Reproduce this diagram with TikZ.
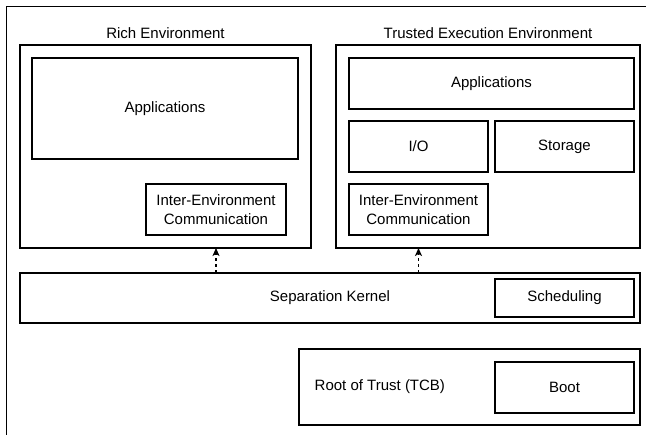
\documentclass[tikz,border=0pt]{standalone}
\usepackage{fontspec}
\setmainfont{Liberation Sans}
\usetikzlibrary{arrows.meta}
\begin{document}
\begin{tikzpicture}[x=1pt, y=-1pt,
  box/.style={draw, rectangle, line width=1.2pt, inner sep=0pt, outer sep=0pt, align=center},
  lbl/.style={inner sep=0pt},
  link/.style={-{Stealth[length=8pt, width=7pt, inset=2pt]}, dash pattern=on 3pt off 3pt, line width=1.2pt},
  every node/.style={font=\fontsize{15}{19}\selectfont}]
\useasboundingbox (0,0) rectangle (646,435);
\draw[line width=1.2pt] (6.5,445) |- (660,6.5);
% rich side
\node[box, minimum width=291, minimum height=203] (richEnv) at (165.5,146.5) {};
\node[lbl] (richLabel) at (165.5,33) {Rich Environment};
\node[box, minimum width=266, minimum height=101] (richApps) at (165,108.5) {Applications};
\node[box, minimum width=140, minimum height=51] (richIec) at (216,209.5) {Inter-Environment\\Communication};
% trusted side
\node[box, minimum width=304, minimum height=203] (teeEnv) at (488,146.5) {};
\node[lbl] (teeLabel) at (488,33) {Trusted Execution Environment};
\node[box, minimum width=285, minimum height=51] (teeApps) at (491.5,83.5) {Applications};
\node[box, minimum width=139, minimum height=51] (teeIO) at (418.5,146.5) {I/O};
\node[box, minimum width=139, minimum height=51] (teeStorage) at (564.5,146.5) {Storage};
\node[box, minimum width=139, minimum height=51] (teeIec) at (418.5,209.5) {Inter-Environment\\Communication};
% kernel and root of trust
\node[box, minimum width=620, minimum height=50] (kernel) at (330,298) {Separation Kernel};
\node[box, minimum width=139, minimum height=38] (sched) at (564.5,298) {Scheduling};
\node[box, minimum width=341, minimum height=76] (root) at (469.5,387) {};
\node[lbl, anchor=west] (rootLabel) at (314.5,387) {Root of Trust (TCB)};
\node[box, minimum width=139, minimum height=51] (boot) at (564.5,387.5) {Boot};
\draw[link] (kernel.north -| richIec) -- (richEnv.south -| richIec);
\draw[link] (kernel.north -| teeIec) -- (teeEnv.south -| teeIec);
\end{tikzpicture}
\end{document}
